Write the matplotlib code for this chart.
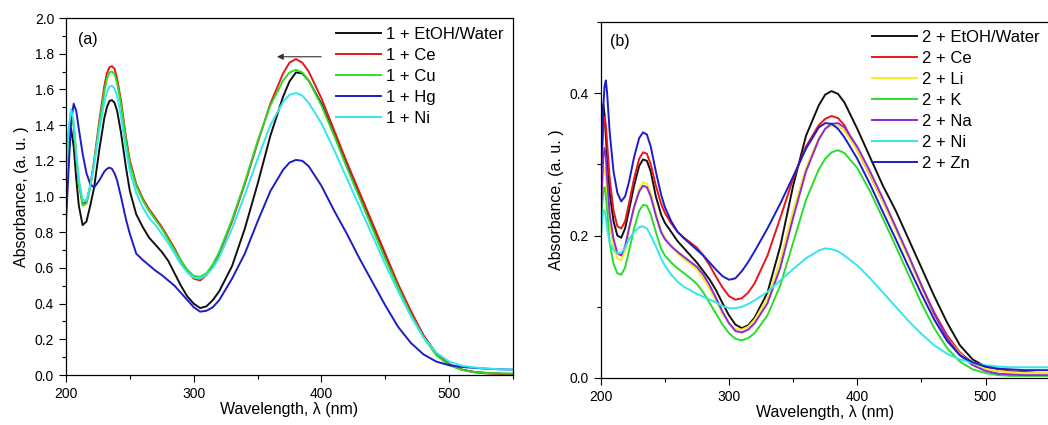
import matplotlib
matplotlib.use("Agg")
import matplotlib.pyplot as plt
from matplotlib.ticker import MultipleLocator

plt.rcParams["font.family"] = ["Liberation Sans", "DejaVu Sans"]

# ---- panel (a) data ----
WL_A = [200, 202, 204, 206, 208, 210, 213, 216, 219, 222, 226, 230, 232, 234, 236, 238, 240,
        243, 247, 250, 255, 260, 265, 270, 275, 280, 285, 290, 295, 300, 305, 310,
        315, 320, 330, 340, 350, 360, 370, 375, 380, 385, 390, 400, 410, 420, 430,
        440, 450, 460, 470, 480, 490, 500, 510, 520, 530, 540, 550]

A_ETOH = [0.95, 1.25, 1.38, 1.28, 1.10, 0.95, 0.84, 0.86, 0.95, 1.05, 1.26, 1.44, 1.50, 1.535, 1.54, 1.525, 1.48,
          1.36, 1.16, 1.03, 0.90, 0.83, 0.77, 0.73, 0.69, 0.64, 0.57, 0.50, 0.44, 0.40, 0.375, 0.385,
          0.42, 0.47, 0.61, 0.82, 1.07, 1.34, 1.56, 1.645, 1.695, 1.69, 1.65, 1.52, 1.35, 1.18, 1.01,
          0.84, 0.67, 0.50, 0.35, 0.22, 0.12, 0.06, 0.03, 0.017, 0.011, 0.008, 0.006]
A_CE = [1.05, 1.35, 1.48, 1.40, 1.22, 1.08, 0.96, 0.97, 1.06, 1.20, 1.42, 1.62, 1.69, 1.725, 1.73, 1.715, 1.66,
        1.54, 1.33, 1.20, 1.07, 0.99, 0.93, 0.88, 0.83, 0.77, 0.71, 0.64, 0.58, 0.54, 0.53, 0.56,
        0.61, 0.68, 0.86, 1.07, 1.30, 1.52, 1.69, 1.75, 1.77, 1.75, 1.70, 1.55, 1.37, 1.19, 1.02,
        0.85, 0.68, 0.51, 0.36, 0.22, 0.12, 0.06, 0.03, 0.015, 0.009, 0.006, 0.005]
A_CU = [1.05, 1.35, 1.47, 1.40, 1.22, 1.07, 0.95, 0.96, 1.05, 1.19, 1.40, 1.59, 1.66, 1.695, 1.70, 1.685, 1.635,
        1.52, 1.31, 1.18, 1.06, 0.98, 0.92, 0.87, 0.82, 0.76, 0.70, 0.64, 0.59, 0.555, 0.55, 0.57,
        0.62, 0.69, 0.87, 1.08, 1.31, 1.51, 1.65, 1.695, 1.71, 1.695, 1.65, 1.51, 1.34, 1.16, 0.99,
        0.82, 0.65, 0.49, 0.34, 0.21, 0.11, 0.055, 0.028, 0.016, 0.011, 0.009, 0.008]
A_HG = [0.86, 1.15, 1.42, 1.52, 1.48, 1.38, 1.24, 1.13, 1.07, 1.05, 1.09, 1.14, 1.155, 1.162, 1.155, 1.13, 1.09,
        1.00, 0.87, 0.79, 0.68, 0.645, 0.615, 0.585, 0.56, 0.53, 0.50, 0.46, 0.42, 0.38, 0.355, 0.36,
        0.38, 0.42, 0.54, 0.68, 0.86, 1.03, 1.15, 1.19, 1.205, 1.20, 1.17, 1.06, 0.92, 0.79, 0.65,
        0.52, 0.39, 0.27, 0.18, 0.115, 0.075, 0.055, 0.045, 0.04, 0.035, 0.032, 0.03]
A_NI = [1.08, 1.38, 1.49, 1.42, 1.25, 1.10, 0.98, 0.98, 1.06, 1.18, 1.37, 1.53, 1.585, 1.615, 1.62, 1.605, 1.565,
        1.45, 1.26, 1.14, 1.02, 0.94, 0.88, 0.84, 0.79, 0.74, 0.68, 0.62, 0.575, 0.545, 0.54, 0.56,
        0.60, 0.66, 0.82, 1.01, 1.21, 1.40, 1.53, 1.57, 1.58, 1.565, 1.525, 1.41, 1.26, 1.10, 0.94,
        0.78, 0.62, 0.47, 0.33, 0.21, 0.125, 0.075, 0.052, 0.042, 0.036, 0.032, 0.03]

LABELS_A = ["1 + EtOH/Water", "1 + Ce", "1 + Cu", "1 + Hg", "1 + Ni"]

# ---- panel (b) data ----
WL_B = [200, 201, 202, 203, 204, 205, 207, 210, 213, 216, 219, 222, 226, 230, 233,
        236, 239, 243, 247, 250, 255, 260, 265, 270, 275, 280, 285, 290, 295, 300,
        305, 310, 315, 320, 330, 340, 350, 360, 370, 375, 380, 385, 390, 400, 410,
        420, 430, 440, 450, 460, 470, 480, 490, 500, 510, 520, 530, 540, 550]

B_ETOH = [0.30, 0.36, 0.385, 0.37, 0.34, 0.31, 0.26, 0.22, 0.20, 0.197, 0.21, 0.235, 0.27, 0.298, 0.307,
          0.305, 0.29, 0.255, 0.23, 0.218, 0.205, 0.192, 0.182, 0.172, 0.162, 0.15, 0.138, 0.123, 0.105, 0.088,
          0.075, 0.07, 0.074, 0.085, 0.12, 0.185, 0.27, 0.34, 0.383, 0.398, 0.403, 0.399, 0.387, 0.35, 0.31,
          0.27, 0.235, 0.195, 0.155, 0.115, 0.078, 0.046, 0.026, 0.016, 0.011, 0.009, 0.008, 0.007, 0.007]
B_CE = [0.26, 0.31, 0.35, 0.367, 0.355, 0.33, 0.28, 0.235, 0.213, 0.21, 0.22, 0.245, 0.28, 0.308, 0.317,
        0.315, 0.30, 0.27, 0.245, 0.232, 0.217, 0.205, 0.197, 0.19, 0.183, 0.172, 0.158, 0.142, 0.127, 0.115,
        0.11, 0.112, 0.12, 0.133, 0.172, 0.225, 0.28, 0.325, 0.355, 0.364, 0.368, 0.365, 0.355, 0.32, 0.285,
        0.248, 0.21, 0.17, 0.13, 0.092, 0.06, 0.036, 0.021, 0.014, 0.01, 0.009, 0.008, 0.007, 0.007]
B_LI = [0.20, 0.25, 0.285, 0.295, 0.285, 0.26, 0.215, 0.185, 0.168, 0.165, 0.178, 0.205, 0.24, 0.265, 0.275,
        0.273, 0.26, 0.232, 0.208, 0.197, 0.185, 0.175, 0.167, 0.16, 0.152, 0.14, 0.125, 0.108, 0.09, 0.077,
        0.069, 0.068, 0.072, 0.082, 0.112, 0.165, 0.235, 0.295, 0.337, 0.35, 0.355, 0.354, 0.347, 0.32, 0.286,
        0.248, 0.208, 0.168, 0.127, 0.088, 0.056, 0.034, 0.02, 0.013, 0.01, 0.008, 0.007, 0.007, 0.007]
B_K = [0.20, 0.24, 0.262, 0.268, 0.255, 0.235, 0.19, 0.16, 0.147, 0.145, 0.155, 0.178, 0.21, 0.235, 0.243,
       0.242, 0.23, 0.205, 0.182, 0.172, 0.162, 0.154, 0.147, 0.14, 0.132, 0.12, 0.105, 0.09, 0.075, 0.063,
       0.055, 0.053, 0.056, 0.063, 0.088, 0.13, 0.19, 0.25, 0.293, 0.308, 0.317, 0.32, 0.316, 0.295, 0.262,
       0.224, 0.185, 0.145, 0.105, 0.07, 0.042, 0.023, 0.012, 0.007, 0.004, 0.003, 0.003, 0.003, 0.003]
B_NA = [0.22, 0.27, 0.31, 0.323, 0.31, 0.28, 0.23, 0.195, 0.175, 0.172, 0.185, 0.21, 0.24, 0.262, 0.27,
        0.268, 0.255, 0.228, 0.205, 0.195, 0.185, 0.177, 0.17, 0.163, 0.156, 0.145, 0.13, 0.112, 0.093, 0.077,
        0.066, 0.064, 0.068, 0.077, 0.105, 0.155, 0.225, 0.29, 0.335, 0.35, 0.357, 0.358, 0.352, 0.325, 0.29,
        0.252, 0.212, 0.172, 0.13, 0.09, 0.056, 0.032, 0.018, 0.01, 0.006, 0.005, 0.004, 0.004, 0.004]
B_NI = [0.19, 0.22, 0.236, 0.235, 0.225, 0.21, 0.19, 0.18, 0.175, 0.176, 0.183, 0.195, 0.205, 0.212, 0.213,
        0.21, 0.20, 0.185, 0.168, 0.158, 0.145, 0.135, 0.128, 0.123, 0.118, 0.114, 0.11, 0.106, 0.101, 0.098,
        0.098, 0.10, 0.104, 0.109, 0.121, 0.137, 0.153, 0.168, 0.179, 0.182, 0.181, 0.178, 0.172, 0.158, 0.14,
        0.12, 0.10, 0.08, 0.062, 0.046, 0.034, 0.026, 0.021, 0.018, 0.016, 0.015, 0.015, 0.015, 0.015]
B_ZN = [0.28, 0.33, 0.38, 0.41, 0.418, 0.40, 0.345, 0.29, 0.26, 0.248, 0.255, 0.275, 0.31, 0.337, 0.345,
        0.342, 0.325, 0.29, 0.258, 0.24, 0.22, 0.205, 0.196, 0.188, 0.18, 0.172, 0.162, 0.152, 0.143, 0.138,
        0.14, 0.15, 0.163, 0.178, 0.21, 0.245, 0.283, 0.322, 0.352, 0.358, 0.357, 0.35, 0.338, 0.308, 0.272,
        0.233, 0.195, 0.156, 0.118, 0.082, 0.052, 0.032, 0.022, 0.016, 0.013, 0.012, 0.011, 0.011, 0.011]

LABELS_B = ["2 + EtOH/Water", "2 + Ce", "2 + Li", "2 + K", "2 + Na", "2 + Ni", "2 + Zn"]

C_BLACK = "#111111"
C_RED = "#e8161b"
C_GREEN = "#2adc2a"
C_BLUE = "#1c1cc8"
C_CYAN = "#33e6ee"
C_YELLOW = "#f4ee1e"
C_PURPLE = "#8a2ad8"

LW = 1.4


def style_axes(ax):
    for sp in ax.spines.values():
        sp.set_linewidth(0.9)
    ax.tick_params(which="both", direction="out", top=False, right=False,
                   labelsize=10, width=0.8)
    ax.tick_params(which="major", length=5)
    ax.tick_params(which="minor", length=3)
    ax.set_xlabel("Wavelength, λ (nm)", fontsize=11.5, labelpad=1)
    ax.set_ylabel("Absorbance, (a. u. )", fontsize=11.5, labelpad=4)


fig = plt.figure(figsize=(10.48, 4.25), dpi=100)

# panel (a)
ax1 = fig.add_axes([0.063, 0.1176, 0.4265, 0.84])
for y, c, lab in zip([A_ETOH, A_CE, A_CU, A_HG, A_NI],
                     [C_BLACK, C_RED, C_GREEN, C_BLUE, C_CYAN], LABELS_A):
    ax1.plot(WL_A, y, color=c, lw=LW, label=lab)
ax1.set_xlim(200, 550)
ax1.set_ylim(0, 2.0)
ax1.xaxis.set_major_locator(MultipleLocator(100))
ax1.xaxis.set_minor_locator(MultipleLocator(50))
ax1.yaxis.set_major_locator(MultipleLocator(0.2))
ax1.yaxis.set_minor_locator(MultipleLocator(0.1))
ax1.yaxis.set_major_formatter(matplotlib.ticker.FormatStrFormatter("%.1f"))
style_axes(ax1)
ax1.text(0.027, 0.94, "(a)", transform=ax1.transAxes, fontsize=11.5, va="center")
ax1.annotate("", xy=(363, 1.783), xytext=(402, 1.783),
             arrowprops=dict(arrowstyle="-|>", color="#333333", lw=0.8,
                             mutation_scale=9))
ax1.legend(loc="upper left", bbox_to_anchor=(0.605, 0.975), frameon=False,
           fontsize=12, handlelength=2.7, handletextpad=0.3, labelspacing=0.36,
           borderpad=0, borderaxespad=0)

# panel (b)
ax2 = fig.add_axes([0.5732, 0.1106, 0.4284, 0.8376])
for y, c, lab in zip([B_ETOH, B_CE, B_LI, B_K, B_NA, B_NI, B_ZN],
                     [C_BLACK, C_RED, C_YELLOW, C_GREEN, C_PURPLE, C_CYAN, C_BLUE],
                     LABELS_B):
    ax2.plot(WL_B, y, color=c, lw=LW, label=lab)
ax2.set_xlim(200, 550)
ax2.set_ylim(0, 0.5)
ax2.xaxis.set_major_locator(MultipleLocator(100))
ax2.xaxis.set_minor_locator(MultipleLocator(50))
ax2.yaxis.set_major_locator(MultipleLocator(0.2))
ax2.yaxis.set_minor_locator(MultipleLocator(0.1))
ax2.yaxis.set_major_formatter(matplotlib.ticker.FormatStrFormatter("%.1f"))
style_axes(ax2)
ax2.text(0.02, 0.944, "(b)", transform=ax2.transAxes, fontsize=11.5, va="center")
ax2.legend(loc="upper left", bbox_to_anchor=(0.605, 0.978), frameon=False,
           fontsize=12, handlelength=2.7, handletextpad=0.3, labelspacing=0.36,
           borderpad=0, borderaxespad=0)

fig.savefig("out.png", dpi=100)
